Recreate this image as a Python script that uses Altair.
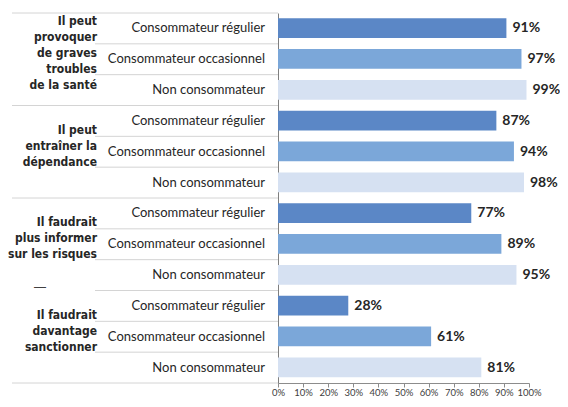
import altair as alt
import pandas as pd

group_lines = [
    ["Il peut", "provoquer", "de graves", "troubles", "de la santé"],
    ["Il peut", "entraîner la", "dépendance"],
    ["Il faudrait", "plus informer", "sur les risques"],
    ["Il faudrait", "davantage", "sanctionner"],
]
profiles = ["Consommateur régulier", "Consommateur occasionnel", "Non consommateur"]
values = [
    [91, 97, 99],
    [87, 94, 98],
    [77, 89, 95],
    [28, 61, 81],
]
colors = ["#5B87C6", "#7BA7D9", "#D6E1F2"]
x_ticks = [0, 10, 20, 30, 40, 50, 60, 70, 80, 90, 100]

PLOT_W = 251
PLOT_H = 370
ROW_PX = PLOT_H / 12
LINE_PX = 16

rows = []
for g, vals in enumerate(values):
    for p, v in enumerate(vals):
        i = g * 3 + p
        rows.append({"row": i, "y0": i + 0.17, "y1": i + 0.81, "ym": i + 0.5,
                     "value": v, "label": f"{v}%", "profile": profiles[p]})
df = pd.DataFrame(rows)

glines = []
for g, lines in enumerate(group_lines):
    n = len(lines)
    for k, t in enumerate(lines):
        glines.append({"t": t, "yl": g * 3 + 1.5 + (k - (n - 1) / 2) * LINE_PX / ROW_PX})
gdf = pd.DataFrame(glines)

full_sep = pd.DataFrame({"b": [0, 3, 6, 12]})
part_sep = pd.DataFrame({"b": [1, 2, 4, 5, 7, 8, 9, 10, 11]})
dash = pd.DataFrame({"b": [9], "t": ["—"]})

yscale = alt.Scale(domain=[0, 12], reverse=True, nice=False, zero=False)
xscale = alt.Scale(domain=[0, 100], nice=False)
xaxis = alt.Axis(values=x_ticks, labelExpr="datum.value + '%'", title=None, grid=False,
                 domainColor="#8c8c8c", tickColor="#8c8c8c", tickSize=4,
                 labelPadding=0, labelFontSize=9.5, labelColor="#404040",
                 labelFont="Lato", labelOverlap=False, labelBound=False, labelFlush=False)
yaxis = alt.Axis(labels=False, ticks=False, grid=False, title=None, domainColor="#7f7f7f")

bars = alt.Chart(df).mark_bar().encode(
    x=alt.X("value:Q", scale=xscale, axis=xaxis),
    x2=alt.datum(0),
    y=alt.Y("y0:Q", scale=yscale, axis=yaxis),
    y2="y1:Q",
    color=alt.Color("profile:N", scale=alt.Scale(domain=profiles, range=colors), legend=None),
)

vlabels = alt.Chart(df).mark_text(align="left", baseline="middle", dx=6, fontSize=14,
                                   fontWeight="bold", font="Lato", color="#262626").encode(
    x=alt.X("value:Q", scale=xscale, axis=xaxis),
    y=alt.Y("ym:Q", scale=yscale, axis=yaxis),
    text="label:N",
)

plabels = alt.Chart(df).mark_text(align="right", baseline="middle", fontSize=13,
                                   font="Lato", color="#262626").encode(
    x=alt.value(-13),
    y=alt.Y("ym:Q", scale=yscale, axis=yaxis),
    text="profile:N",
)

glabels = alt.Chart(gdf).mark_text(
    align="right", baseline="middle", fontSize=12, fontWeight="bold", dy=-6,
    font="DejaVu Sans Condensed", color="#262626").encode(
    x=alt.value(-181),
    y=alt.Y("yl:Q", scale=yscale, axis=yaxis),
    text="t:N",
)

fsep = alt.Chart(full_sep).mark_rule(color="#d4d4d4", strokeWidth=1).encode(
    x=alt.value(-266), x2=alt.value(0), y=alt.Y("b:Q", scale=yscale, axis=yaxis))
psep = alt.Chart(part_sep).mark_rule(color="#d4d4d4", strokeWidth=1).encode(
    x=alt.value(-183), x2=alt.value(0), y=alt.Y("b:Q", scale=yscale, axis=yaxis))
dmark = alt.Chart(dash).mark_text(align="center", baseline="middle", dy=-4, fontSize=12,
                                  color="#404040").encode(
    x=alt.value(-238), y=alt.Y("b:Q", scale=yscale, axis=yaxis), text="t:N")

chart = alt.layer(fsep, psep, bars, vlabels, plabels, glabels, dmark).properties(
    width=PLOT_W, height=PLOT_H,
    autosize=alt.AutoSizeParams(type="none"),
    padding={"left": 270, "top": 5, "right": 31, "bottom": 15},
).configure_view(stroke=None)

chart.save("out.html", embed_options={"renderer": "svg", "actions": False})
